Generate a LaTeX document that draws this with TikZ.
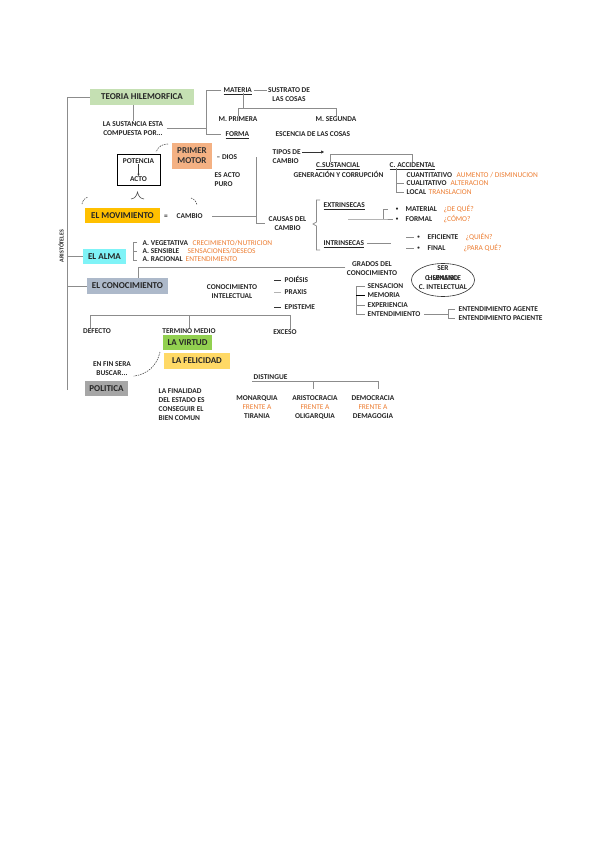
\documentclass[tikz,border=0pt]{standalone}
\usepackage{fontspec}
\setmainfont{Carlito}
\usetikzlibrary{arrows.meta,shapes.geometric}
\definecolor{linec}{HTML}{8C8C8C}
\definecolor{txt}{HTML}{262626}
\definecolor{orng}{HTML}{ED7D31}
\definecolor{cgreen}{HTML}{C5E0B3}
\definecolor{csalmon}{HTML}{F4B183}
\definecolor{cgold}{HTML}{FFC000}
\definecolor{ccyan}{HTML}{7FF3F7}
\definecolor{cslate}{HTML}{ADB9CA}
\definecolor{cvirtud}{HTML}{92D050}
\definecolor{cfeli}{HTML}{FFD966}
\definecolor{cgray}{HTML}{A6A6A6}
\tikzset{
 tx/.style={font=\fontsize{7.4}{9}\selectfont\bfseries, text=txt, inner sep=0.5pt},
 one/.style={tx, text height=4.8pt, text depth=0pt},
 lt/.style={one, anchor=west},
 ct/.style={tx, align=center},
 bul/.style={font=\fontsize{5}{6}\selectfont\bfseries, text=txt, inner sep=0.5pt},
 ort/.style={font=\fontsize{7.4}{9}\selectfont, text=orng, inner sep=0.5pt, text height=4.8pt, text depth=0pt, anchor=west},
 bxs/.style={font=\fontsize{9}{10}\selectfont\bfseries, text=txt, inner sep=0pt},
 ln/.style={draw=linec, line width=0.7pt},
 dsh/.style={draw=black!70, line width=0.6pt, dash pattern=on 1.5pt off 1pt},
}
\begin{document}
\begin{tikzpicture}[x=1pt,y=-1pt]
\useasboundingbox (0,0) rectangle (600,848);
\fill[white] (0,0) rectangle (600,848);
\begin{scope}
\clip (0,0) rectangle (600,421);
% ---------- spine
\node[bxs, fill=cgreen, minimum width=104pt, minimum height=16pt] (teoria) at (142,97) {TEORIA HILEMORFICA};
\node[bxs, fill=ccyan, minimum width=43pt, minimum height=15pt] (alma) at (104.5,256.5) {EL ALMA};
\node[bxs, fill=cslate, minimum width=81pt, minimum height=16pt] (conoc) at (127.5,286) {EL CONOCIMIENTO};
\coordinate (spb) at (67,390);
\draw[ln] (teoria.west) -| (spb);
\draw[ln] (alma.west) -- (alma.west -| spb);
\draw[ln] (conoc.west) -- (conoc.west -| spb);
\node[tx, rotate=90, font=\fontsize{6}{7}\selectfont\bfseries] (arist) at (61,246) {ARISTÓTELES};
% ---------- teoria
\node[ct] (sust) at (133,128.5) {LA SUSTANCIA ESTA\\COMPUESTA POR...};
\coordinate (bt) at (206,90);
\coordinate (bb) at (206,134);
\node[lt] (materia) at (223,90) {\underline{MATERIA}};
\node[ct] (sustrato) at (289,94.5) {SUSTRATO DE\\LAS COSAS};
\node[one] (mprim) at (238,119) {M. PRIMERA};
\node[one] (mseg) at (336,119) {M. SEGUNDA};
\node[lt] (forma) at (225,134) {\underline{FORMA}};
\node[lt] (escencia) at (275,134) {ESCENCIA DE LAS COSAS};
\draw[ln] (teoria.south -| sust.north) -- (sust.north);
\draw[ln] ([xshift=3pt]sust.east) -- (sust.east -| bt);
\draw[ln] ([xshift=-2pt]materia.west) -- (bt) -- (bb) -- ([xshift=-4pt]forma.west);
\draw[ln] ([xshift=1pt]materia.east) -- (sustrato.west |- materia.east);
\coordinate (mh) at (0,108);
\draw[ln] ([xshift=6pt]materia.south) -- ([xshift=6pt]materia.south |- mh);
\draw[ln] (mprim.north) -- (mprim.north |- mh) -| (mseg.north);
% ---------- primer motor
\node[bxs, fill=csalmon, minimum width=40pt, minimum height=26pt, align=center, text=black!80] (motor) at (192,156) {PRIMER\\MOTOR};
\node[lt] (dios) at (216,157) {– DIOS};
\node[tx, align=left, anchor=west] (puro) at (214,180) {ES ACTO\\PURO};
\coordinate (da) at (168,144);
\coordinate (db) at (156,152);
\draw[dsh] (da) to[bend right=35] (db);
\node[draw=black, line width=0.6pt, minimum width=43pt, minimum height=31pt, inner sep=0pt] (pot) at (138.5,169.5) {};
\node[one] (potencia) at (138.5,161) {POTENCIA};
\node[one] (acto) at (138.5,179) {ACTO};
\draw[black!80, line width=0.5pt, -{Stealth[length=2.2pt,width=2.2pt]}] (potencia.south) -- (acto.north);
\draw[draw=black!70, line width=0.6pt] (131,199) .. controls (135,198.5) and (136.5,196) .. (137.5,192) .. controls (138.5,196) and (140,198.5) .. (144,199);
\draw[dsh] (82,204) to[bend left=30] (88,197);
\draw[dsh] (191,198) to[bend left=30] (197,205);
% ---------- movimiento
\node[bxs, fill=cgold, minimum width=75pt, minimum height=15pt] (mov) at (122.5,215.5) {EL MOVIMIENTO};
\node[one] (eq) at (166,216) {=};
\node[lt] (cambio) at (176,216) {CAMBIO};
\coordinate (vtop) at (256,157);
\node[ct] (causas) at (287.5,223.5) {CAUSAS DEL\\CAMBIO};
\draw[ln] (vtop) |- ([xshift=-3pt]causas.west);
\draw[ln] ([xshift=9pt]cambio.east) -- (cambio.east -| vtop);
% ---------- tipos de cambio
\node[tx, align=left, anchor=west] (tipos) at (272,156.5) {TIPOS DE\\CAMBIO};
\coordinate (ar1) at (302,152);
\coordinate (ar2) at (324,152);
\draw[draw=black!80, line width=0.6pt, -{Triangle[length=3pt,width=3pt]}] (ar1) -- (ar2);
\node[one] (csus) at (338,165) {\underline{C.SUSTANCIAL}};
\node[one] (cacc) at (412.5,165) {\underline{C. ACCIDENTAL}};
\draw[ln] ([xshift=-8pt]csus.north) -- ++(0,-8) -| (cacc.north);
\node[one] (gen) at (338.5,175) {GENERACIÓN Y CORRUPCIÓN};
\coordinate (acv) at (396,168);
\node[lt] (cuant) at (406,175) {CUANTITATIVO};
\node[ort] (o1) at (456,175) {AUMENTO / DISMINUCION};
\node[lt] (cuali) at (406,183.5) {CUALITATIVO};
\node[ort] (o2) at (450,183.5) {ALTERACION};
\node[lt] (local) at (406,192) {LOCAL};
\node[ort] (o3) at (428,192) {TRANSLACION};
\draw[ln] (acv) |- ([xshift=-2pt]local.west);
\draw[ln] (acv |- cuali.west) -- ([xshift=-2pt]cuali.west);
% ---------- causas
\draw[ln] (320,200) -- (316.5,200) -- (316.5,222) -- (313,224) -- (316.5,226) -- (316.5,250) -- (320,250);
\node[lt] (extr) at (323,205) {\underline{EXTRINSECAS}};
\node[lt] (intr) at (323,243) {\underline{INTRINSECAS}};
\coordinate (e1) at (348,219);
\coordinate (e2) at (383,219);
\coordinate (e3) at (383,209);
\draw[ln] (e1) -- (e2) -- ++(10,0);
\draw[ln] (e2) -- (e3) -- ++(5,0);
\node[bul] (b1) at (397,209) {•};
\node[lt] (mat) at (405,209) {MATERIAL};
\node[ort] (o4) at (443,209) {¿DE QUÉ?};
\node[bul] (b2) at (397,219) {•};
\node[lt] (form) at (405,219) {FORMAL};
\node[ort] (o5) at (443,219) {¿CÓMO?};
\draw[ln] ([xshift=2pt]intr.east) -- ++(24,0);
\node[bul] (b3) at (418.5,237) {•};
\node[lt] (efi) at (427,237) {EFICIENTE};
\node[ort] (o6) at (465,237) {¿QUIÉN?};
\node[bul] (b4) at (418.5,248) {•};
\node[lt] (fin) at (427,248) {FINAL};
\node[ort] (o7) at (463,248) {¿PARA QUÉ?};
\draw[ln] ([xshift=-3pt]b3.west) -- ++(-8,0);
\draw[ln] ([xshift=-3pt]b4.west) -- ++(-8,0);
% ---------- alma
\draw[ln] (137,242) -- (133,242) -- (133,260) -- (137,260);
\draw[ln] (133,251) -- (137,251);
\node[lt] (veg) at (142,243) {A. VEGETATIVA};
\node[ort] (o8) at (192,243) {CRECIMIENTO/NUTRICION};
\node[lt] (sen) at (142,251) {A. SENSIBLE};
\node[ort] (o9) at (187,251) {SENSACIONES/DESEOS};
\node[lt] (rac) at (142,259) {A. RACIONAL};
\node[ort] (o10) at (185,259) {ENTENDIMIENTO};
% ---------- conocimiento
\node[ct] (grados) at (372,268.5) {GRADOS DEL\\CONOCIMIENTO};
\coordinate (cl) at (138,267);
\draw[ln] ([xshift=-1pt]grados.west |- cl) -- (cl) -- (cl |- conoc.north);
\node[ct] (cint2) at (232,291.5) {CONOCIMIENTO\\INTELECTUAL};
\node[lt] (poi) at (284,280) {POIÉSIS};
\node[lt] (pra) at (284,292) {PRAXIS};
\node[lt] (epi) at (284,307) {EPISTEME};
\draw[ln, draw=black!80] ([xshift=-3pt]poi.west) -- ++(-7,0);
\draw[ln, draw=black!30] ([xshift=-3pt]pra.west) -- ++(-7,0);
\draw[ln, draw=black!80] ([xshift=-3pt]epi.west) -- ++(-7,0);
\node[draw=black!80, line width=0.6pt, ellipse, minimum width=63pt, minimum height=33pt, inner sep=0pt] (ell) at (443,280) {};
\node[one] (ser) at (443,268.5) {SER};
\node[one] (csen) at (443,278) {C. SENSIBLE};
\node[one] (hum) at (443,278) {HUMANO};
\node[one] (cint) at (443,287) {C. INTELECTUAL};
\coordinate (gv) at (356,285);
\node[lt] (sens) at (367,286) {SENSACION};
\node[lt] (mem) at (367,295.5) {MEMORIA};
\node[lt] (expe) at (367,305) {EXPERIENCIA};
\node[lt] (ent) at (367,314) {ENTENDIMIENTO};
\draw[ln] ([xshift=-2pt]sens.west) -- (sens.west -| gv) |- ([xshift=-2pt]ent.west);
\draw[ln] (gv |- expe.west) -- ([xshift=-2pt]expe.west);
\draw[ln, draw=black] (gv |- mem.west) -- ([xshift=-2pt]mem.west);
\coordinate (ev) at (448,314);
\node[lt] (eag) at (458,309) {ENTENDIMIENTO AGENTE};
\node[lt] (epac) at (458,318) {ENTENDIMIENTO PACIENTE};
\draw[ln] ([xshift=3pt]ent.east) -- (ev);
\draw[ln] ([xshift=-3pt]eag.west) -- (eag.west -| ev) -- (epac.west -| ev) -- ([xshift=-3pt]epac.west);
% ---------- virtud
\node[one] (defecto) at (97,331) {DEFECTO};
\node[one] (termino) at (189,331) {TERMINO MEDIO};
\node[one] (exceso) at (285,332) {EXCESO};
\coordinate (h1) at (90,315);
\coordinate (h2) at (189,315);
\coordinate (h3) at (290,315);
\draw[ln] (h1 |- defecto.north) -- (h1) -- (h3) -- (h3 |- exceso.north);
\draw[ln] (h2) -- (termino.north);
\node[bxs, fill=cvirtud, minimum width=49pt, minimum height=15pt] (virtud) at (187.5,342.5) {LA VIRTUD};
\node[bxs, fill=cfeli, minimum width=66pt, minimum height=16pt] (feli) at (197,361) {LA FELICIDAD};
\node[ct] (enfin) at (112,368.5) {EN FIN SERA\\BUSCAR...};
\coordinate (dv) at (160,352);
\draw[dsh] (dv) to[bend left=35] ([xshift=2pt]enfin.south east);
\node[bxs, fill=cgray, minimum width=43pt, minimum height=15pt] (pol) at (106.5,388.5) {POLITICA};
\node[tx, align=left, anchor=north west] (finalidad) at (158,388) {LA FINALIDAD\\DEL ESTADO ES\\CONSEGUIR EL\\BIEN COMUN};
% ---------- distingue
\node[lt] (dist) at (253,377.5) {DISTINGUE};
\coordinate (d1) at (252,381);
\coordinate (d2) at (313,381);
\coordinate (d3) at (378,381);
\node[tx, align=center, anchor=north] (mon) at (257,395) {MONARQUIA\\\textcolor{orng}{\mdseries FRENTE A}\\TIRANIA};
\node[tx, align=center, anchor=north] (ari) at (315,395) {ARISTOCRACIA\\\textcolor{orng}{\mdseries FRENTE A}\\OLIGARQUIA};
\node[tx, align=center, anchor=north] (dem) at (373,395) {DEMOCRACIA\\\textcolor{orng}{\mdseries FRENTE A}\\DEMAGOGIA};
\draw[ln] (d1) -- (d3) -- ++(0,8);
\draw[ln] (d2) -- ++(0,8);
\end{scope}
\end{tikzpicture}
\end{document}
